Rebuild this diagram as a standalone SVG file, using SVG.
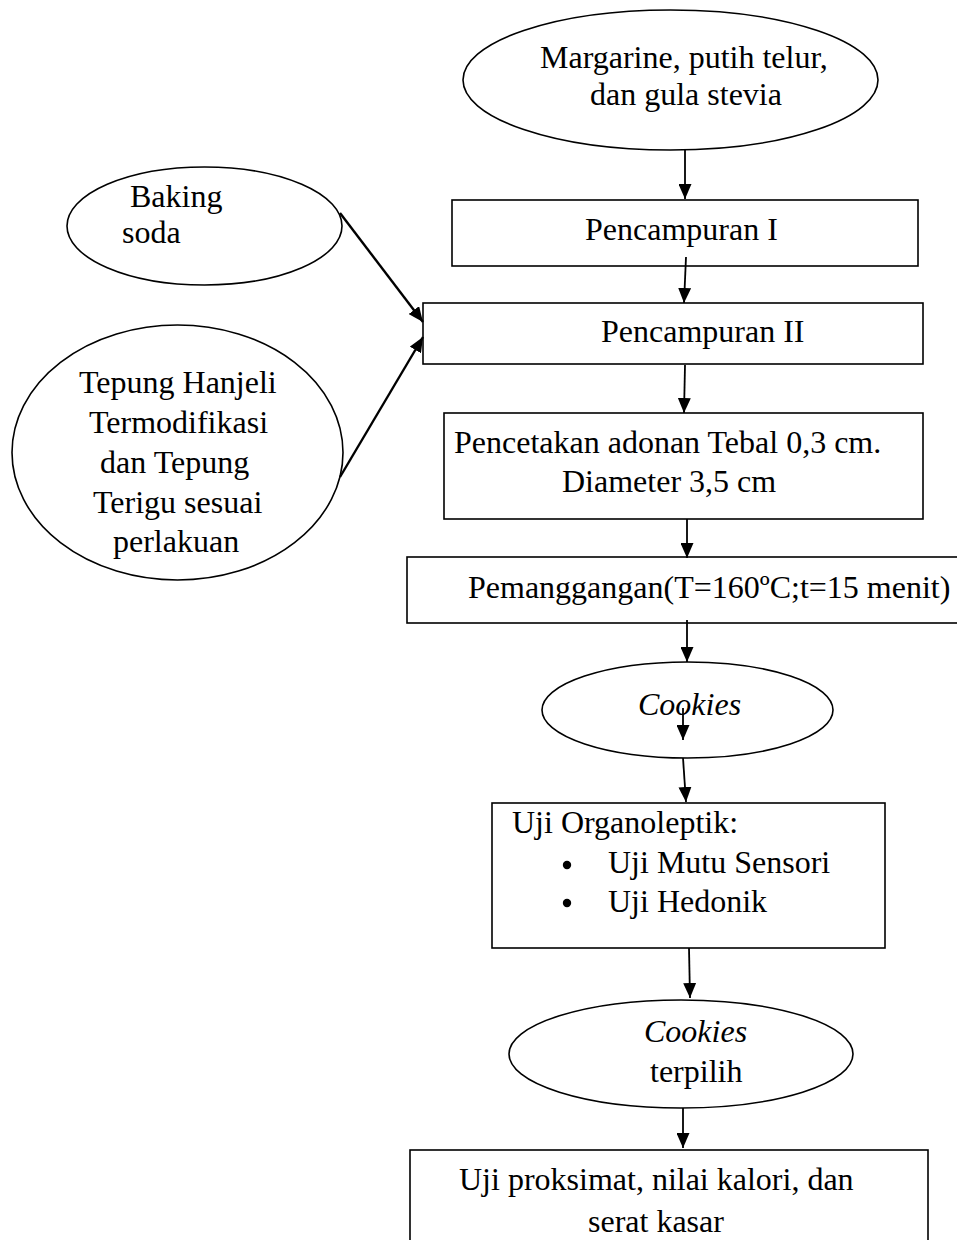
<svg xmlns="http://www.w3.org/2000/svg" width="957" height="1240" viewBox="0 0 957 1240">
<style>
.shape{fill:#fff;stroke:#000;stroke-width:1.6}
.t{font-family:"Liberation Serif","Times New Roman",serif;font-size:32px;fill:#000}
.i{font-style:italic}
.c{stroke:#000;stroke-width:1.8;fill:none}
.cb{stroke:#000;stroke-width:2.4;fill:none}
</style>
<defs>
<marker id="ah" markerUnits="userSpaceOnUse" markerWidth="15" markerHeight="13" refX="15" refY="6.5" orient="auto">
<path d="M0,0 L15,6.5 L0,13 z" fill="#000"/>
</marker>
</defs>
<rect width="957" height="1240" fill="#fff"/>

<g id="n-margarine">
<ellipse class="shape" cx="670.5" cy="80" rx="207.5" ry="70"/>
<text class="t" x="540" y="68">Margarine, putih telur,</text>
<text class="t" x="590" y="105">dan gula stevia</text>
</g>
<g id="n-baking">
<ellipse class="shape" cx="204.5" cy="226" rx="137.5" ry="59"/>
<text class="t" x="130" y="207">Baking</text>
<text class="t" x="122" y="243">soda</text>
</g>
<g id="n-tepung">
<ellipse class="shape" cx="177.5" cy="452.5" rx="165.5" ry="127.5"/>
<text class="t" x="79" y="393">Tepung Hanjeli</text>
<text class="t" x="89" y="433">Termodifikasi</text>
<text class="t" x="100" y="473">dan Tepung</text>
<text class="t" x="93" y="513">Terigu sesuai</text>
<text class="t" x="113" y="552">perlakuan</text>
</g>
<g id="n-pencampuran1">
<rect class="shape" x="452" y="200" width="466" height="66"/>
<text class="t" x="585" y="240">Pencampuran I</text>
</g>
<g id="n-pencampuran2">
<rect class="shape" x="423" y="303" width="500" height="61"/>
<text class="t" x="601" y="342">Pencampuran II</text>
</g>
<g id="n-pencetakan">
<rect class="shape" x="444" y="413" width="479" height="106"/>
<text class="t" x="454" y="453">Pencetakan adonan Tebal 0,3 cm.</text>
<text class="t" x="562" y="492">Diameter 3,5 cm</text>
</g>
<g id="n-pemanggangan">
<rect class="shape" x="407" y="557" width="560" height="66"/>
<text class="t" x="468" y="598">Pemanggangan(T=160ºC;t=15 menit)</text>
</g>
<g id="n-cookies">
<ellipse class="shape" cx="687.5" cy="710" rx="145.5" ry="48"/>
<text class="t i" x="638" y="715">Cookies</text>
</g>
<g id="n-organoleptik">
<rect class="shape" x="492" y="803" width="393" height="145"/>
<text class="t" x="512" y="833">Uji Organoleptik:</text>
<circle cx="567" cy="865" r="4.2" fill="#000"/>
<text class="t" x="608" y="873">Uji Mutu Sensori</text>
<circle cx="567" cy="903" r="4.2" fill="#000"/>
<text class="t" x="608" y="912">Uji Hedonik</text>
</g>
<g id="n-terpilih">
<ellipse class="shape" cx="681" cy="1054" rx="172" ry="54"/>
<text class="t i" x="644" y="1042">Cookies</text>
<text class="t" x="650" y="1082">terpilih</text>
</g>
<g id="n-proksimat">
<rect class="shape" x="410" y="1150" width="518" height="100"/>
<text class="t" x="459" y="1190">Uji proksimat, nilai kalori, dan</text>
<text class="t" x="588" y="1232">serat kasar</text>
</g>

<g id="connectors">
<line class="c" x1="685" y1="150" x2="685" y2="199" marker-end="url(#ah)"/>
<line class="c" x1="686" y1="257" x2="684" y2="303" marker-end="url(#ah)"/>
<line class="cb" x1="340" y1="213" x2="423" y2="322" marker-end="url(#ah)"/>
<line class="cb" x1="340" y1="477" x2="423" y2="337" marker-end="url(#ah)"/>
<line class="c" x1="685" y1="365" x2="684" y2="413" marker-end="url(#ah)"/>
<line class="c" x1="687" y1="519" x2="687" y2="558" marker-end="url(#ah)"/>
<line class="c" x1="687" y1="620" x2="687" y2="662" marker-end="url(#ah)"/>
<line class="c" x1="683" y1="708" x2="683" y2="740" marker-end="url(#ah)"/>
<line class="c" x1="683" y1="758" x2="686" y2="802" marker-end="url(#ah)"/>
<line class="c" x1="689" y1="948" x2="690" y2="998" marker-end="url(#ah)"/>
<line class="c" x1="683" y1="1108" x2="683" y2="1148" marker-end="url(#ah)"/>
</g>
</svg>
